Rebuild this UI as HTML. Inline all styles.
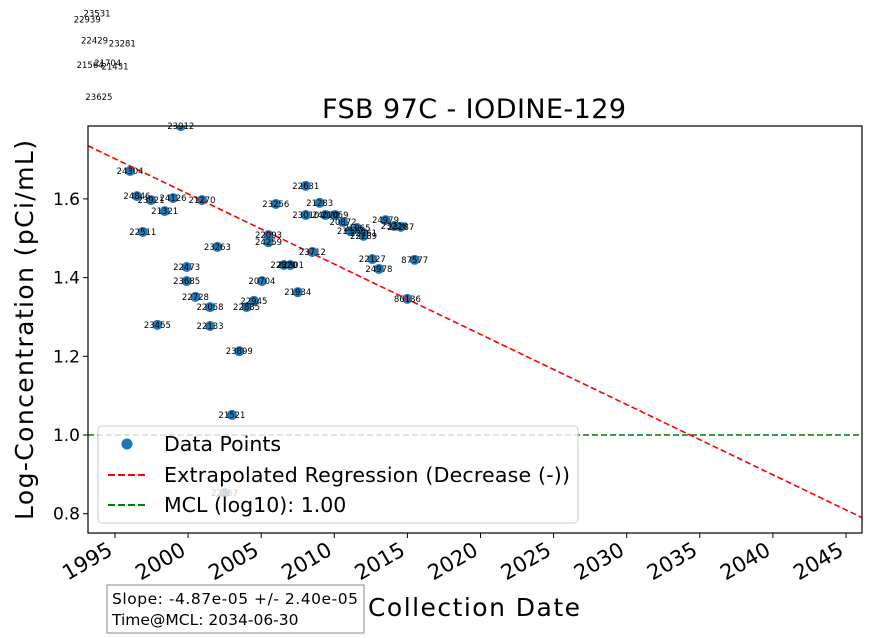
<!DOCTYPE html>
<html><head><meta charset="utf-8"><style>
body{margin:0;background:#fff;}
svg{display:block;font-family:"DejaVu Sans","Liberation Sans",sans-serif;}
</style></head><body>
<svg id="chart" width="871" height="638" viewBox="0 0 871 638">
<defs><clipPath id="plotclip"><rect x="88" y="126" width="774" height="407"/></clipPath></defs>
<text x="474" y="118" font-size="27" text-anchor="middle" textLength="304">FSB 97C - IODINE-129</text>
<g id="axes"></g>
<g id="marks"></g>
<rect x="88" y="126" width="774" height="407" fill="none" stroke="#000" stroke-width="1.2"/>
<text transform="translate(33,330) rotate(-90)" font-size="25" text-anchor="middle" textLength="380">Log-Concentration (pCi/mL)</text>
<text x="474" y="616" font-size="25" text-anchor="middle" textLength="212">Collection Date</text>
<g>
<rect x="98" y="426" width="480" height="97" rx="4" fill="#fff" fill-opacity="0.8" stroke="#ccc"/>
<circle cx="127" cy="444" r="5.5" fill="#1f77b4"/>
<text x="164" y="451" font-size="20.5">Data Points</text>
<line x1="108" y1="475" x2="147" y2="475" stroke="red" stroke-width="2" stroke-dasharray="7,3"/>
<text x="164" y="482" font-size="20.5" textLength="406">Extrapolated Regression (Decrease (-))</text>
<line x1="108" y1="505" x2="147" y2="505" stroke="green" stroke-width="2" stroke-dasharray="7,3"/>
<text x="164" y="512" font-size="20.5">MCL (log10): 1.00</text>
</g>
<g>
<rect x="107" y="585" width="257" height="48" fill="#fff" stroke="#888"/>
<text x="112" y="604" font-size="15.5" textLength="246">Slope: -4.87e-05 +/- 2.40e-05</text>
<text x="112" y="625" font-size="15.5">Time@MCL: 2034-06-30</text>
</g>
</svg>
<script>
const xTicks=[1995,2000,2005,2010,2015,2020,2025,2030,2035,2040,2045];
const yTicks=[0.8,1.0,1.2,1.4,1.6];
const yTickLabels=["0.8","1.0","1.2","1.4","1.6"];
const pointIds=["24304","24846","23921","24126","21270","21321","22511","23263","22473","23685","22728","22058","22133","23455","23899","21521","22867","20704","22945","22885","22093","24259","23256","22820","22801","21934","23712","22631","21283","23010","24070","21059","20872","21577","21065","22261","22289","24979","23228","23287","22127","24978","87577","86136","23912","23531","22939","22429","23281","21564","21704","21431","23625"];
const pointYears=[1996.03,1996.5,1997.46,1998.97,2000.95,1998.4,1996.9,2002.0,1999.9,1999.9,2000.5,2001.5,2001.5,1997.9,2003.5,2003.0,2002.5,2005.05,2004.5,2004.0,2005.5,2005.5,2006.0,2006.55,2007.0,2007.5,2008.5,2008.05,2009.0,2008.05,2009.4,2010.05,2010.6,2011.1,2011.55,2012.0,2012.0,2013.5,2014.1,2014.55,2012.6,2013.05,2015.5,2015.0,1999.5,1993.77,1993.1,1993.6,1995.5,1993.3,1994.5,1995.0,1993.9];
const pointValues=[1.671,1.607,1.597,1.602,1.597,1.569,1.516,1.478,1.427,1.391,1.351,1.325,1.277,1.280,1.213,1.051,0.853,1.391,1.341,1.325,1.508,1.490,1.587,1.432,1.432,1.363,1.465,1.633,1.590,1.559,1.559,1.559,1.541,1.518,1.526,1.513,1.506,1.546,1.531,1.529,1.447,1.422,1.445,1.346,1.785,2.071,2.056,2.003,1.995,1.940,1.945,1.937,1.859];
const regYears=[1993.15,2046.1];
const regValues=[1.735,0.790];
const mclValue=[1.0];

const NS="http://www.w3.org/2000/svg";
const X=y=>115+(y-1995)*14.62;
const Y=v=>435-(v-1)*393.5;
function mk(tag,attrs,parent){const e=document.createElementNS(NS,tag);for(const k in attrs)e.setAttribute(k,attrs[k]);parent.appendChild(e);return e;}
const axes=document.getElementById('axes'),marks=document.getElementById('marks');
xTicks.forEach(t=>{
  const x=X(t);
  const l=mk('line',{x1:x,y1:533,x2:x,y2:538,stroke:'#000'},axes);
  
  
  const tx=mk('text',{x:x-1,y:554,'font-size':21,'text-anchor':'end',transform:`rotate(-30 ${x-1} 554)`},axes);
  tx.textContent=t;
  
  
});
yTicks.forEach((t,i)=>{
  const y=Y(t);
  const l=mk('line',{x1:83,y1:y,x2:88,y2:y,stroke:'#000'},axes);
  
  
  const tx=mk('text',{x:80,y:y+6,'font-size':17,'text-anchor':'end'},axes);
  tx.textContent=yTickLabels[i];
  
  
});
const clipG=mk('g',{'clip-path':'url(#plotclip)'},marks);
pointIds.forEach((id,i)=>{
  const cx=X(pointYears[i]),cy=Y(pointValues[i]);
  const c=mk('circle',{cx:cx,cy:cy,r:5,fill:'#1f77b4'},clipG);
  
  
});
const m=mk('line',{x1:88,y1:Y(mclValue[0]),x2:862,y2:Y(mclValue[0]),stroke:'green','stroke-width':1.6,'stroke-dasharray':'6,3'},clipG);


const r=mk('line',{x1:X(regYears[0]),y1:Y(regValues[0]),x2:X(regYears[1]),y2:Y(regValues[1]),stroke:'red','stroke-width':1.6,'stroke-dasharray':'6,3'},clipG);


pointIds.forEach((id,i)=>{
  const t=mk('text',{x:X(pointYears[i]),y:Y(pointValues[i])+3,'font-size':8.5,'text-anchor':'middle'},marks);
  t.textContent=id;
  
  
});
</script>
</body></html>
